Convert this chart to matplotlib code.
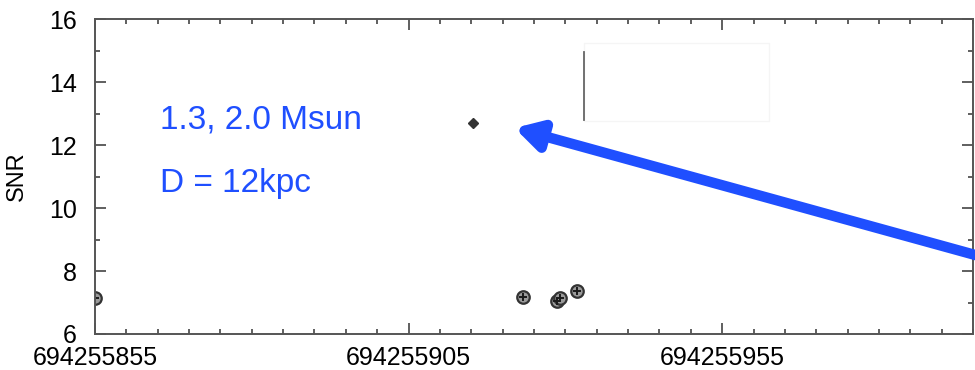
import numpy as np
import matplotlib.pyplot as plt
from matplotlib.ticker import MultipleLocator, FixedLocator
from matplotlib.patches import Rectangle

plt.rcParams['font.family'] = ['Liberation Sans', 'DejaVu Sans']

# GPS times (offset from 694255855) and SNR of triggers
t0 = 694255855
trig_dt = [0.0, 68.3, 73.6, 74.2, 76.8]
trig_snr = [7.14, 7.17, 7.06, 7.15, 7.37]

# loudest (injected) trigger
inj_dt = [60.3]
inj_snr = [12.70]

xticks = [t0, t0 + 50, t0 + 100]
xlabels = ['694255855', '694255905', '694255955']
yticks = [6, 8, 10, 12, 14, 16]

blue = '#1f4fff'

fig = plt.figure(figsize=(9.75, 3.7), dpi=100)
ax = fig.add_axes([0.0974, 0.0973, 0.9006, 0.8513])

tx = t0 + np.array(trig_dt)
ax.plot(tx, trig_snr, 'o', ms=9, mfc='#9a9a9a', mec='#333333', mew=1.6, ls='none')
ax.plot(tx, trig_snr, '+', ms=6, mec='#1a1a1a', mew=1.4, ls='none')
ax.plot(t0 + np.array(inj_dt), inj_snr, 'D', ms=5, mfc='#333333', mec='#333333', ls='none')

# faint inset box with vertical segment
ax.add_patch(Rectangle((t0 + 78.0, 12.75), 29.5, 2.49, fill=False,
                       ec='#f5f5f5', lw=1))
ax.plot([t0 + 77.9, t0 + 77.9], [12.8, 14.95], color='#666666', lw=1.3)

ax.set_xlim(t0, t0 + 140)
ax.set_ylim(6, 16)
ax.xaxis.set_major_locator(FixedLocator(xticks))
ax.set_xticklabels(xlabels)
ax.xaxis.set_minor_locator(MultipleLocator(5))
ax.set_yticks(yticks)
ax.yaxis.set_minor_locator(MultipleLocator(1))
ax.tick_params(which='both', direction='in', top=True, right=True,
               labelsize=18, color='#444444', width=1.2)
ax.tick_params(which='major', length=8)
ax.tick_params(which='minor', length=3.6)
ax.tick_params(axis='x', which='major', pad=9)
ax.tick_params(axis='y', which='major', pad=13)
for s in ax.spines.values():
    s.set_color('#555555')
    s.set_linewidth(1.4)
ax.set_ylabel('SNR', fontsize=17)
ax.yaxis.set_label_coords(-0.0763, 0.5)

ax.text(t0 + 10.35, 12.54, '1.3, 2.0 Msun', color=blue, fontsize=24, va='baseline')
ax.text(t0 + 10.35, 10.51, 'D = 12kpc', color=blue, fontsize=24, va='baseline')

ax.annotate('', xy=(t0 + 66.9, 12.54), xytext=(t0 + 140.5, 8.5),
            arrowprops=dict(arrowstyle='-|>,head_length=1.5,head_width=0.85',
                            color=blue, lw=7.5, shrinkA=0, shrinkB=0),
            annotation_clip=False)

fig.savefig('out.png', dpi=100)
